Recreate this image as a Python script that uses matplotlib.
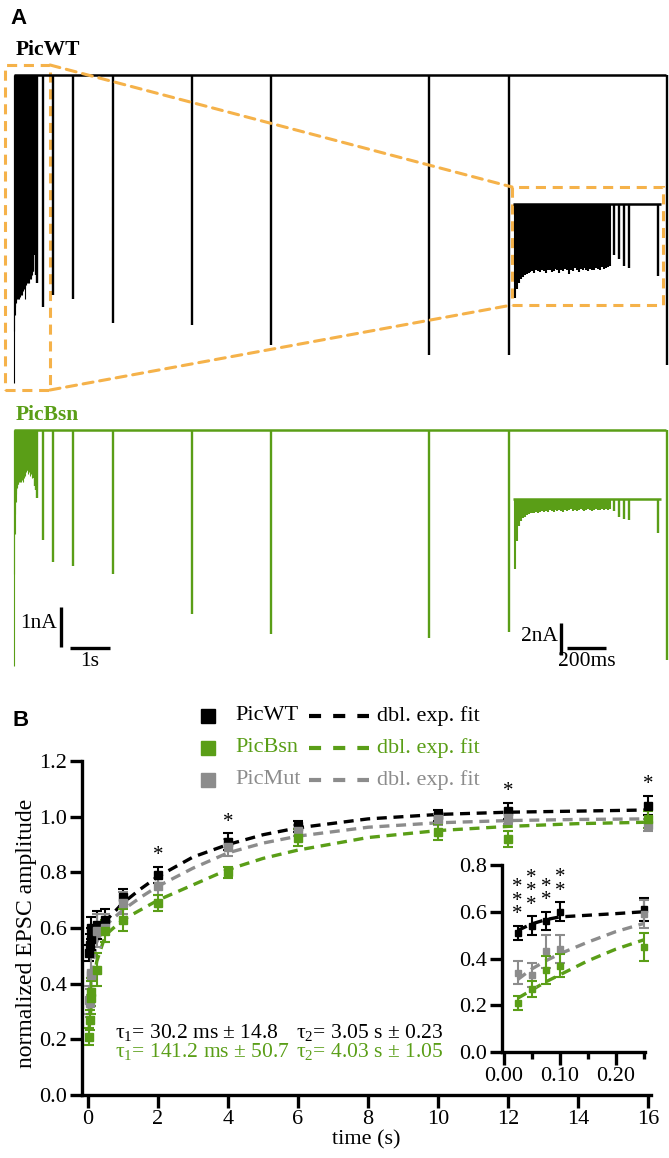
import matplotlib
matplotlib.use('Agg')
import matplotlib.pyplot as plt
from matplotlib.patches import Rectangle, ConnectionPatch
from matplotlib.lines import Line2D
import numpy as np

plt.rcParams['font.family'] = ['Liberation Serif', 'DejaVu Serif']
plt.rcParams['mathtext.fontset'] = 'custom'
plt.rcParams['mathtext.rm'] = 'Liberation Serif'
plt.rcParams['mathtext.it'] = 'Liberation Serif:italic'

BLACK = '#000000'
GREEN = '#5A9E17'
GREY = '#8C8C8C'
ORANGE = '#F5B24A'

# ---------------- panel A: example sweeps (amplitudes in nA) ----------------
isi = 0.01  # 100 Hz train, 50 pulses
rec_t = [0.025, 0.05, 0.075, 0.1, 0.25, 0.5, 1, 2, 4, 6, 10, 12, 16]

wt_train = [7.7, 6.4, 6.0, 5.8, 5.7, 5.6, 5.65, 5.55, 5.6, 5.5, 5.6, 5.55, 5.5, 5.6, 5.5,
            5.45, 5.55, 5.5, 5.4, 5.5, 5.45, 5.35, 5.4, 5.3, 5.35, 5.3, 5.2, 5.25, 5.3, 5.6,
            5.2, 5.25, 5.15, 5.2, 5.1, 5.2, 5.15, 5.1, 5.2, 5.05, 5.1, 5.0, 5.1, 5.05, 4.9,
            5.0, 4.95, 4.9, 4.9, 4.85]
wt_rec = [4.2, 4.5, 5.0, 5.2, 5.8, 5.5, 5.6, 6.2, 6.25, 6.75, 7.0, 7.0, 7.25]

bsn_train = [5.9, 3.6, 2.6, 2.1, 1.8, 1.6, 1.5, 1.45, 1.4, 1.35, 1.3, 1.35, 1.3, 1.25, 1.3,
             1.25, 1.2, 1.3, 1.25, 1.2, 1.25, 1.2, 1.3, 1.2, 1.15, 1.2, 1.1, 1.15, 1.05, 1.1,
             1.0, 1.05, 1.0, 0.95, 1.0, 1.1, 0.95, 1.0, 0.95, 1.05, 1.0, 1.15, 1.0, 1.1, 1.05,
             1.2, 1.0, 1.05, 1.0, 0.95]
bsn_rec = [1.2, 1.4, 1.5, 1.7, 2.75, 3.3, 3.4, 3.6, 4.6, 5.1, 5.2, 5.05, 5.75]

# zoomed sweeps (first 750 ms)
wt_zoom_train = [5.9, 5.3, 4.95, 4.7, 4.55, 4.45, 4.35, 4.3, 4.25, 4.2, 4.3, 4.15, 4.2, 4.25,
                 4.1, 4.2, 4.3, 4.15, 4.1, 4.25, 4.2, 4.05, 4.15, 4.3, 4.1, 4.2, 4.05, 4.15,
                 4.35, 4.1, 4.2, 4.0, 4.1, 4.25, 4.05, 4.15, 4.0, 4.1, 4.2, 4.05, 4.1, 4.15,
                 4.0, 4.05, 4.1, 3.95, 4.05, 4.0, 3.95, 3.9]
wt_zoom_rec = [3.2, 3.45, 3.9, 4.0, 4.5]
bsn_zoom_train = [4.4, 2.6, 1.7, 1.35, 1.2, 1.1, 1.0, 0.95, 0.9, 0.9, 0.85, 0.8, 0.85, 0.8,
                  0.75, 0.8, 0.75, 0.8, 0.7, 0.75, 0.8, 0.7, 0.75, 0.7, 0.75, 0.8, 0.7, 0.75,
                  0.7, 0.65, 0.75, 0.7, 0.75, 0.7, 0.65, 0.7, 0.75, 0.7, 0.65, 0.7, 0.75, 0.7,
                  0.65, 0.7, 0.7, 0.65, 0.7, 0.65, 0.7, 0.65]
bsn_zoom_rec = [0.75, 1.1, 1.25, 1.3, 2.1]

# ---------------- panel B: recovery data ----------------
times = [0.025, 0.05, 0.075, 0.1, 0.25, 0.5, 1, 2, 4, 6, 10, 12, 16]
wt = [0.51, 0.54, 0.56, 0.60, 0.61, 0.63, 0.71, 0.79, 0.91, 0.965, 1.005, 1.02, 1.04]
wt_err = [0.03, 0.04, 0.04, 0.04, 0.05, 0.04, 0.03, 0.03, 0.03, 0.02, 0.02, 0.03, 0.035]
mut = [0.34, 0.33, 0.43, 0.44, 0.59, 0.60, 0.69, 0.75, 0.89, 0.95, 0.99, 0.995, 0.97]
mut_err = [0.05, 0.05, 0.07, 0.06, 0.06, 0.05, 0.04, 0.03, 0.03, 0.02, 0.02, 0.02, 0.02]
bsn = [0.21, 0.27, 0.35, 0.37, 0.45, 0.59, 0.63, 0.69, 0.80, 0.925, 0.945, 0.92, 0.99]
bsn_err = [0.03, 0.035, 0.06, 0.05, 0.06, 0.04, 0.04, 0.03, 0.02, 0.03, 0.03, 0.03, 0.03]

fit_t = [0.025, 0.05, 0.075, 0.1, 0.15, 0.2, 0.25, 0.5, 1, 1.5, 2, 3, 4, 5, 6, 8, 10, 12, 14, 16]
wt_fit = [0.52, 0.548, 0.566, 0.578, 0.585, 0.592, 0.60, 0.625, 0.69, 0.74, 0.785, 0.855,
          0.90, 0.935, 0.96, 0.992, 1.008, 1.016, 1.02, 1.024]
mut_fit = [0.31, 0.355, 0.39, 0.42, 0.47, 0.515, 0.55, 0.61, 0.665, 0.71, 0.75, 0.815,
           0.87, 0.905, 0.93, 0.962, 0.978, 0.986, 0.99, 0.992]
bsn_fit = [0.23, 0.265, 0.30, 0.33, 0.39, 0.44, 0.48, 0.575, 0.63, 0.665, 0.70, 0.755,
           0.81, 0.85, 0.88, 0.925, 0.95, 0.965, 0.975, 0.98]

sig_main_t = [2, 4, 12, 16]
sig_main_n = [1, 1, 1, 1]
sig_inset_t = [0.025, 0.05, 0.075, 0.1]
sig_inset_n = [3, 3, 2, 2]

# ---------------- figure ----------------
W, H = 669, 1158
fig = plt.figure(figsize=(W / 100, H / 100), dpi=100)


def px_axes(x0, y0, x1, y1):
    return fig.add_axes([x0 / W, 1 - y1 / H, (x1 - x0) / W, (y1 - y0) / H])


def trace_axes(x0, y0, x1, y1, base_y, px_nA, t0_px, px_s):
    ax = px_axes(x0, y0, x1, y1)
    ax.set_xlim((x0 - t0_px) / px_s, (x1 - t0_px) / px_s)
    ax.set_ylim(-(y1 - base_y) / px_nA, (base_y - y0) / px_nA)
    ax.axis('off')
    return ax


def draw_sweep(ax, train, rec_amp, rec_times, color, lw_train, lw_rec, t_end):
    t_train = np.arange(len(train)) * isi
    ax.hlines(0, -0.01, t_end, color=color, lw=1.8)
    ax.vlines(t_train, -np.array(train), 0, color=color, lw=lw_train)
    ax.vlines(t_train[-1] + np.array(rec_times), -np.array(rec_amp), 0, color=color, lw=lw_rec)


# main sweeps: 39.6 px/s, 40 px/nA ; zoomed: 193 px/s, 16 px/nA
ax_wt = trace_axes(0, 55, W, 400, 75, 40, 14, 39.6)
ax_wt_z = trace_axes(512, 187, 663, 305, 204, 16, 515, 193)
ax_bsn = trace_axes(0, 420, W, 680, 430, 40, 14, 39.6)
ax_bsn_z = trace_axes(512, 480, 663, 680, 499, 16, 515, 193)

draw_sweep(ax_wt, wt_train, wt_rec, rec_t, BLACK, 0.8, 1.7, 16.46)
draw_sweep(ax_bsn, bsn_train, bsn_rec, rec_t, GREEN, 0.8, 1.7, 16.46)
draw_sweep(ax_wt_z, wt_zoom_train, wt_zoom_rec, rec_t[:5], BLACK, 1.5, 1.7, 0.757)
draw_sweep(ax_bsn_z, bsn_zoom_train, bsn_zoom_rec, rec_t[:5], GREEN, 1.5, 1.7, 0.757)

# zoom callout
dash = (0, (3.3, 2.2))
ax_wt.add_patch(Rectangle((-0.23, -7.875), 1.14, 8.125, fill=False, ec=ORANGE, lw=2.2,
                          ls=dash, clip_on=False))
ax_wt_z.add_patch(Rectangle((0, 0), 1, 1, transform=ax_wt_z.transAxes, fill=False,
                            ec=ORANGE, lw=2.2, ls=dash, clip_on=False))
for ya, yb in [(0.25, 1), (-7.875, 0)]:
    con = ConnectionPatch(xyA=(0.91, ya), coordsA='data', axesA=ax_wt,
                          xyB=(0, yb), coordsB='axes fraction', axesB=ax_wt_z,
                          color=ORANGE, lw=2.2, ls=dash)
    fig.add_artist(con)

# scale bars
ax_bsn.plot([1.187, 1.187], [-4.425, -5.425], color=BLACK, lw=2.4, solid_capstyle='butt')
ax_bsn.plot([1.414, 2.414], [-5.45, -5.45], color=BLACK, lw=2.4, solid_capstyle='butt')
ax_bsn.text(1.09, -4.85, '1nA', ha='right', va='center', fontsize=15.5)
ax_bsn.text(1.914, -5.55, '1s', ha='center', va='top', fontsize=15.5)
ax_bsn_z.plot([0.238, 0.238], [-7.75, -9.75], color=BLACK, lw=2.4, solid_capstyle='butt')
ax_bsn_z.plot([0.269, 0.469], [-9.31, -9.31], color=BLACK, lw=2.4, solid_capstyle='butt')
ax_bsn_z.text(0.222, -8.6, '2nA', ha='right', va='center', fontsize=15.5)
ax_bsn_z.text(0.37, -9.55, '200ms', ha='center', va='top', fontsize=15.5)

fig.text(10 / W, 1 - 18 / H, 'A', family='Liberation Sans', weight='bold', fontsize=16,
         va='center', ha='left')
fig.text(16 / W, 1 - 50 / H, 'PicWT', weight='bold', fontsize=15.5, va='center', color=BLACK)
fig.text(16 / W, 1 - 415 / H, 'PicBsn', weight='bold', fontsize=15.5, va='center', color=GREEN)

# ---------------- panel B ----------------
fig.text(12 / W, 1 - 720 / H, 'B', family='Liberation Sans', weight='bold', fontsize=16,
         va='center', ha='left')


def prism(ax, lw=2.4):
    for s in ['top', 'right']:
        ax.spines[s].set_visible(False)
    for s in ['left', 'bottom']:
        ax.spines[s].set_linewidth(lw)
    ax.tick_params(direction='out', length=9, width=lw, labelsize=16, pad=2)
    ax.tick_params(which='minor', direction='out', length=5, width=lw)


def stars(a, t, y, n):
    a.annotate('\n'.join(['*'] * n), xy=(t, y), xytext=(0, 1), textcoords='offset points',
               ha='center', va='bottom', fontsize=15, linespacing=0.62,
               annotation_clip=False)


ax = px_axes(82, 761, 651, 1095)
ax.set_xlim(-0.1714, 16.086)
ax.set_ylim(0, 1.2)
prism(ax)
ax.set_xticks(range(0, 17, 2))
ax.set_yticks(np.arange(0, 1.21, 0.2))
ax.set_yticklabels(['%.1f' % v for v in np.arange(0, 1.21, 0.2)])
ax.set_xlabel('time (s)', fontsize=16, labelpad=1)
fig.text(27 / W, 1 - 933 / H, 'normalized EPSC amplitude', rotation=90, fontsize=17,
         ha='center', va='center')

series = [(wt, wt_err, wt_fit, BLACK), (mut, mut_err, mut_fit, GREY), (bsn, bsn_err, bsn_fit, GREEN)]
for vals, err, fit, c in series:
    ax.plot(fit_t, fit, color=c, lw=2.4, ls=(0, (3, 2)), zorder=2)
    ax.errorbar(times, vals, yerr=err, fmt='s', color=c, ms=5.5, capsize=3.5, elinewidth=1.5,
                capthick=1.5, clip_on=False, zorder=3)

for t, n in zip(sig_main_t, sig_main_n):
    i = times.index(t)
    stars(ax, t, wt[i] + wt_err[i], n)

ax.text(0.77, 0.226, r'τ$_\mathrm{1}$= 30.2 ms ± 14.8', fontsize=15.5, va='center', color=BLACK)
ax.text(5.95, 0.226, r'τ$_\mathrm{2}$= 3.05 s ± 0.23', fontsize=15.5, va='center', color=BLACK)
ax.text(0.77, 0.155, r'τ$_\mathrm{1}$= 141.2 ms ± 50.7', fontsize=15.5, va='center', color=GREEN)
ax.text(5.95, 0.155, r'τ$_\mathrm{2}$= 4.03 s ± 1.05', fontsize=15.5, va='center', color=GREEN)

# inset with the first 250 ms
axi = px_axes(502, 865, 645, 1052)
axi.set_xlim(-0.003, 0.252)
axi.set_ylim(0, 0.8)
axi.patch.set_alpha(0)
prism(axi)
axi.set_xticks([0, 0.1, 0.2])
axi.set_xticklabels(['0.00', '0.10', '0.20'])
axi.set_xticks([0.05, 0.15, 0.25], minor=True)
axi.set_yticks([0, 0.2, 0.4, 0.6, 0.8])
axi.set_yticklabels(['0.0', '0.2', '0.4', '0.6', '0.8'])
n_in = sum(t <= 0.25 for t in times)
nf_in = sum(t <= 0.25 for t in fit_t)
for vals, err, fit, c in series:
    axi.plot(fit_t[:nf_in], fit[:nf_in], color=c, lw=2.4, ls=(0, (3, 2)), zorder=2)
    axi.errorbar(times[:n_in], vals[:n_in], yerr=err[:n_in], fmt='s', color=c, ms=5,
                 capsize=3.5, elinewidth=1.5, capthick=1.5, clip_on=False, zorder=3)
for t, n in zip(sig_inset_t, sig_inset_n):
    i = times.index(t)
    stars(axi, t, wt[i] + wt_err[i], n)

# legend
rows = [('PicWT', BLACK, 716), ('PicBsn', GREEN, 748), ('PicMut', GREY, 780)]
for name, c, y in rows:
    yf = 1 - y / H
    fig.add_artist(Line2D([207.5 / W], [yf], marker='s', ms=10.5, color=c, ls='none'))
    fig.text(235 / W, yf, name, color=c, fontsize=16, va='center')
    fig.add_artist(Line2D([309 / W, 369 / W], [yf, yf], color=c, lw=3, ls=(0, (2.9, 2.9))))
    fig.text(377 / W, yf, 'dbl. exp. fit', color=c, fontsize=16, va='center')

fig.savefig('out.png', dpi=100)
